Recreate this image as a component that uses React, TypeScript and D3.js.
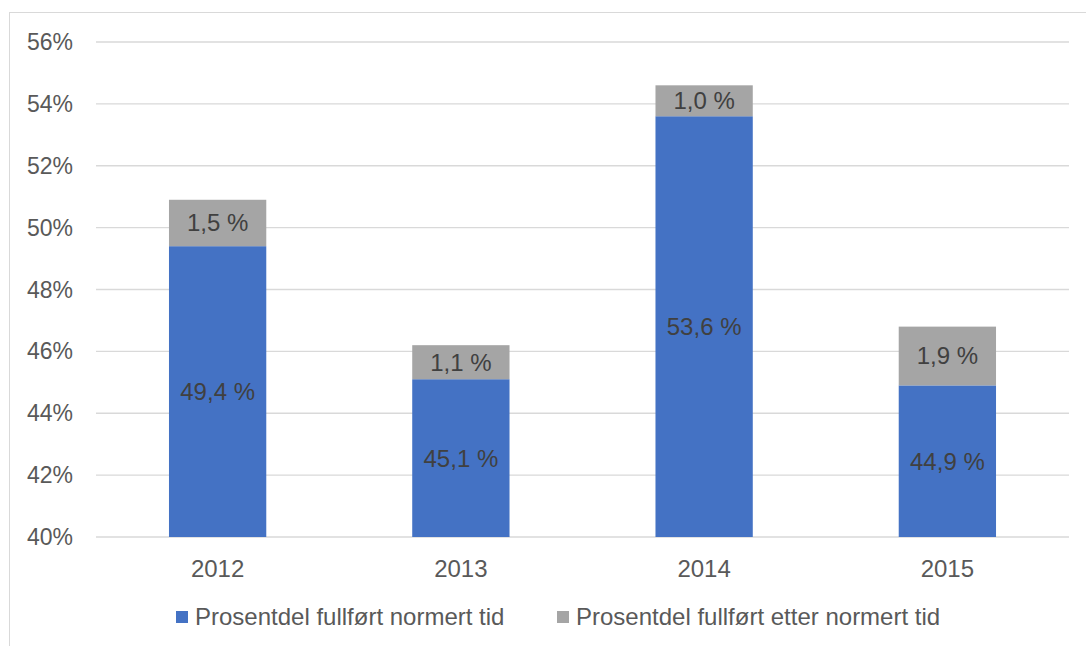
import React, { useEffect, useRef } from "react";
import * as d3 from "d3";

const years = ["2012", "2013", "2014", "2015"];
const normert = [49.4, 45.1, 53.6, 44.9];
const etter = [1.5, 1.1, 1.0, 1.9];
const yTicks = [40, 42, 44, 46, 48, 50, 52, 54, 56];
const seriesNames = ["Prosentdel fullført normert tid", "Prosentdel fullført etter normert tid"];
const colors = ["#4472C4", "#A5A5A5"];

const W = 1086, H = 646;
const margin = { top: 42, right: 17, bottom: 109, left: 96 };

const fmt = (v: number) => v.toFixed(1).replace(".", ",") + " %";

export default function App() {
  const ref = useRef<SVGSVGElement>(null);

  useEffect(() => {
    const svg = d3.select(ref.current);
    svg.selectAll("*").remove();
    const font = "'Liberation Sans', Arial, sans-serif";
    const fs = 24;

    // chart frame
    svg.append("rect").attr("x", 9.5).attr("y", 12.5).attr("width", W + 20).attr("height", H + 20)
      .attr("fill", "#fff").attr("stroke", "#D9D9D9");

    const x = d3.scaleBand().domain(years).range([margin.left, W - margin.right])
      .paddingInner(0.6).paddingOuter(0.3);
    const y = d3.scaleLinear().domain([40, 56]).range([H - margin.bottom, margin.top]);

    svg.append("g").selectAll("line").data(yTicks).join("line")
      .attr("x1", margin.left).attr("x2", W - margin.right)
      .attr("y1", d => y(d)).attr("y2", d => y(d))
      .attr("stroke", "#D9D9D9").attr("stroke-width", 1.3);

    svg.append("g").selectAll("text").data(yTicks).join("text")
      .attr("x", 73).attr("y", d => y(d)).attr("dy", "0.35em")
      .attr("text-anchor", "end").attr("font-family", font).attr("font-size", 23)
      .attr("fill", "#595959").text(d => d + "%");

    const rows = years.map((yr, i) => ({ yr, a: normert[i], b: etter[i] }));

    const g = svg.append("g");
    g.selectAll("rect.a").data(rows).join("rect").attr("class", "a")
      .attr("x", d => x(d.yr)!).attr("width", x.bandwidth())
      .attr("y", d => y(d.a)).attr("height", d => y(40) - y(d.a)).attr("fill", colors[0]);
    g.selectAll("rect.b").data(rows).join("rect").attr("class", "b")
      .attr("x", d => x(d.yr)!).attr("width", x.bandwidth())
      .attr("y", d => y(d.a + d.b)).attr("height", d => y(d.a) - y(d.a + d.b)).attr("fill", colors[1]);

    g.selectAll("text.a").data(rows).join("text").attr("class", "a")
      .attr("x", d => x(d.yr)! + x.bandwidth() / 2).attr("y", d => (y(40) + y(d.a)) / 2)
      .attr("dy", "0.35em").attr("text-anchor", "middle").attr("font-family", font)
      .attr("font-size", fs).attr("fill", "#404040").text(d => fmt(d.a));
    g.selectAll("text.b").data(rows).join("text").attr("class", "b")
      .attr("x", d => x(d.yr)! + x.bandwidth() / 2).attr("y", d => (y(d.a) + y(d.a + d.b)) / 2)
      .attr("dy", "0.35em").attr("text-anchor", "middle").attr("font-family", font)
      .attr("font-size", fs).attr("fill", "#404040").text(d => fmt(d.b));

    svg.append("g").selectAll("text").data(years).join("text")
      .attr("x", d => x(d)! + x.bandwidth() / 2).attr("y", y(40) + 40)
      .attr("text-anchor", "middle").attr("font-family", font).attr("font-size", fs)
      .attr("fill", "#595959").text(d => d);

    // legend
    const legendX = [176, 557];
    const leg = svg.append("g").selectAll("g").data(seriesNames).join("g")
      .attr("transform", (d, i) => `translate(${legendX[i]},611)`);
    leg.append("rect").attr("width", 12).attr("height", 12).attr("fill", (d, i) => colors[i]);
    leg.append("text").attr("x", 19).attr("y", 6).attr("dy", "0.35em")
      .attr("font-family", font).attr("font-size", fs).attr("fill", "#595959").text(d => d);
  }, []);

  return <svg ref={ref} width={W} height={H} style={{ display: "block", position: "absolute", left: 0, top: 0 }} />;
}
